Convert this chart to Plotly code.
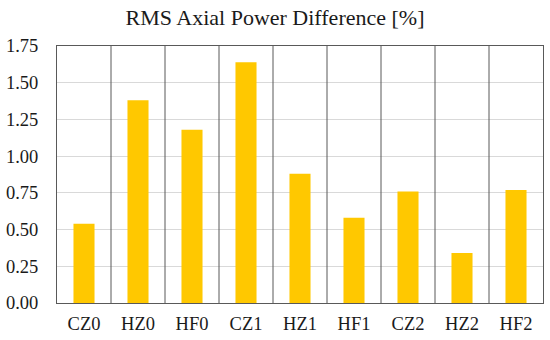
import plotly.graph_objects as go

categories = ["CZ0", "HZ0", "HF0", "CZ1", "HZ1", "HF1", "CZ2", "HZ2", "HF2"]
values = [0.54, 1.38, 1.18, 1.64, 0.88, 0.58, 0.76, 0.34, 0.77]
y_ticks = [0, 0.25, 0.5, 0.75, 1.0, 1.25, 1.5, 1.75]
y_tick_labels = ["0.00", "0.25", "0.50", "0.75", "1.00", "1.25", "1.50", "1.75"]
title = "RMS Axial Power Difference [%]"

font_family = "Liberation Serif"
frame_color = "#595959"
text_color = "#1a1a1a"

fig = go.Figure(go.Bar(x=categories, y=values, marker_color="#FFC800",
                       marker_line_width=0, width=0.39, hoverinfo="skip"))

for i in range(1, len(categories)):
    fig.add_shape(type="line", xref="x", yref="paper", x0=i - 0.5, x1=i - 0.5,
                  y0=0, y1=1, line=dict(color=frame_color, width=1))

fig.update_layout(
    width=550, height=340,
    margin=dict(l=57, r=7, t=46, b=37, autoexpand=False),
    paper_bgcolor="white", plot_bgcolor="white",
    title=dict(text=title, x=0.5, xanchor="center", y=0.948, yanchor="middle",
               font=dict(family=font_family, size=22, color=text_color)),
    font=dict(family=font_family, size=18.5, color=text_color),
    showlegend=False,
)
fig.update_xaxes(showline=True, mirror=True, linecolor=frame_color, linewidth=1,
                 ticks="", showgrid=False, range=[-0.5, len(categories) - 0.5],
                 ticklabelstandoff=4, automargin=False,
                 tickfont=dict(family=font_family, size=18.5, color=text_color))
fig.update_yaxes(range=[0, 1.75], tickvals=y_ticks, ticktext=y_tick_labels,
                 showline=True, mirror=True, linecolor=frame_color, linewidth=1,
                 showgrid=True, gridcolor="#d9d9d9", gridwidth=1, zeroline=False,
                 ticks="", ticklabelstandoff=14, automargin=False,
                 tickfont=dict(family=font_family, size=18.5, color=text_color))

fig.write_html("out.html", config={"displayModeBar": False},
               post_script="document.body.style.margin='0';document.body.style.padding='0';")
